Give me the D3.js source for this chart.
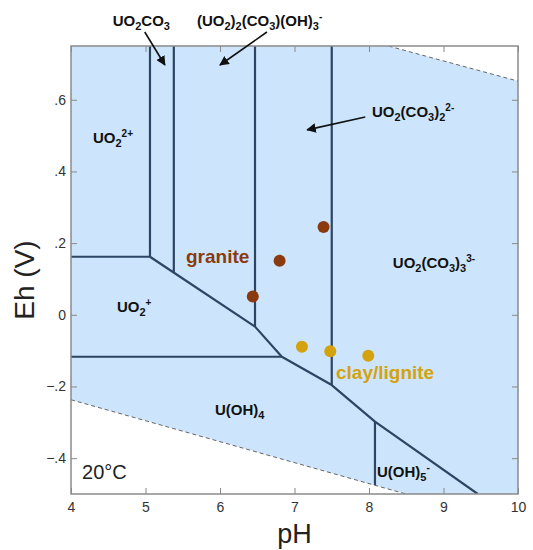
<!DOCTYPE html>
<html>
<head>
<meta charset="utf-8">
<script src="https://cdn.jsdelivr.net/npm/d3@7"></script>
<style>
  body { margin: 0; background: #fff; }
  svg { display: block; }
</style>
</head>
<body>
<div id="chart"></div>
<script>
var width = 533,
	height = 550;

var phTicks = [4, 5, 6, 7, 8, 9, 10];
var ehTicks = [-0.4, -0.2, 0, 0.2, 0.4, 0.6];

// water stability limits (dashed)
var upperWater = [[4, 0.99], [10, 0.652]];
var lowerWater = [[4, -0.237], [10, -0.588]];

// field boundaries [pH, Eh]
var boundaries = [
	[[4, 0.162], [5.06, 0.162]],
	[[5.06, 0.75], [5.06, 0.162]],
	[[5.06, 0.162], [6.47, -0.033], [6.83, -0.117], [7.5, -0.196], [8.08, -0.298], [9.46, -0.5]],
	[[5.38, 0.75], [5.38, 0.118]],
	[[6.47, 0.75], [6.47, -0.033]],
	[[4, -0.117], [6.83, -0.117]],
	[[7.5, 0.75], [7.5, -0.196]],
	[[8.08, -0.298], [8.08, -0.475]]
];

var granitePH = [7.39, 6.80, 6.44];
var graniteEh = [0.245, 0.151, 0.051];
var clayPH = [7.10, 7.48, 7.99];
var clayEh = [-0.089, -0.102, -0.114];

// species labels: parts of [text, kind]; position = left/baseline in data units
var species = [
	{ ph: 4.56, eh: 0.806, parts: [["UO", "n"], ["2", "sub"], ["CO", "n"], ["3", "sub"]] },
	{ ph: 5.69, eh: 0.806, parts: [["(UO", "n"], ["2", "sub"], [")", "n"], ["2", "sub"], ["(CO", "n"], ["3", "sub"], [")(OH)", "n"], ["3", "sub"], ["-", "sup"]] },
	{ ph: 8.04, eh: 0.552, parts: [["UO", "n"], ["2", "sub"], ["(CO", "n"], ["3", "sub"], [")", "n"], ["2", "sub"], ["2-", "sup"]] },
	{ ph: 4.295, eh: 0.479, parts: [["UO", "n"], ["2", "sub"], ["2+", "sup"]] },
	{ ph: 4.617, eh: 0.008, parts: [["UO", "n"], ["2", "sub"], ["+", "sup"]] },
	{ ph: 8.32, eh: 0.131, parts: [["UO", "n"], ["2", "sub"], ["(CO", "n"], ["3", "sub"], [")", "n"], ["3", "sub"], ["3-", "sup"]] },
	{ ph: 5.933, eh: -0.279, parts: [["U(OH)", "n"], ["4", "sub"]] },
	{ ph: 8.107, eh: -0.452, parts: [["U(OH)", "n"], ["5", "sub"], ["-", "sup"]] }
];

var arrows = [
	[[4.99, 0.789], [5.26, 0.697]],
	[[6.63, 0.789], [6.0, 0.697]],
	[[7.95, 0.552], [7.17, 0.516]]
];

var lineColor = "#2b4563";
var fillColor = "#cce5fc";
var graniteColor = "#8b3a10";
var clayColor = "#d4a20c";

var x = d3.scaleLinear().domain([4, 10]).range([71, 518]);
var y = d3.scaleLinear().domain([-0.5, 0.75]).range([494, 46]);

var svg = d3.select("#chart").append("svg")
	.attr("width", width)
	.attr("height", height)
	.style("font-family", "'Liberation Sans', Arial, sans-serif");

var defs = svg.append("defs");
defs.append("clipPath").attr("id", "plotclip")
	.append("rect")
	.attr("x", x(4)).attr("y", y(0.75))
	.attr("width", x(10) - x(4)).attr("height", y(-0.5) - y(0.75));
defs.append("marker")
	.attr("id", "arrowhead")
	.attr("viewBox", "0 0 10 10")
	.attr("refX", 9).attr("refY", 5)
	.attr("markerWidth", 6).attr("markerHeight", 6)
	.attr("orient", "auto")
	.append("path")
	.attr("d", "M0,0 L10,5 L0,10 z")
	.attr("fill", "#111");

var line = d3.line().x(function(d) { return x(d[0]); }).y(function(d) { return y(d[1]); });

var plot = svg.append("g").attr("clip-path", "url(#plotclip)");

// water stability field
var field = upperWater.concat(lowerWater.slice().reverse());
plot.append("path")
	.attr("d", line(field) + "Z")
	.attr("fill", fillColor);
plot.selectAll("path.water")
	.data([upperWater, lowerWater])
	.enter().append("path")
	.attr("class", "water")
	.attr("d", line)
	.attr("fill", "none")
	.attr("stroke", "#666")
	.attr("stroke-width", 1)
	.attr("stroke-dasharray", "4,3");

plot.selectAll("path.bound")
	.data(boundaries)
	.enter().append("path")
	.attr("class", "bound")
	.attr("d", line)
	.attr("fill", "none")
	.attr("stroke", lineColor)
	.attr("stroke-width", 2.2)
	.attr("stroke-linejoin", "round");

// axes
function styleAxis(g) {
	g.selectAll(".domain").remove();
	g.selectAll("line").attr("stroke", "#888").attr("stroke-width", 1);
	g.selectAll("text").attr("fill", "#333").style("font-size", "14px")
		.style("font-family", "'Liberation Sans', Arial, sans-serif");
}
var ehFormat = function(d) {
	if (Math.abs(d) < 1e-9) return "0";
	return (d < 0 ? "\u2212" : "") + "." + Math.round(Math.abs(d) * 10);
};

svg.append("g").attr("transform", "translate(0," + y(-0.5) + ")")
	.call(d3.axisBottom(x).tickValues(phTicks).tickSizeInner(-6).tickSizeOuter(0).tickPadding(8).tickFormat(d3.format("d")))
	.call(styleAxis);
svg.append("g").attr("transform", "translate(0," + y(0.75) + ")")
	.call(d3.axisTop(x).tickValues(phTicks).tickSizeInner(-6).tickSizeOuter(0).tickFormat(""))
	.call(styleAxis);
svg.append("g").attr("transform", "translate(" + x(4) + ",0)")
	.call(d3.axisLeft(y).tickValues(ehTicks).tickSizeInner(-6).tickSizeOuter(0).tickPadding(5).tickFormat(ehFormat))
	.call(styleAxis);
svg.append("g").attr("transform", "translate(" + x(10) + ",0)")
	.call(d3.axisRight(y).tickValues(ehTicks).tickSizeInner(-6).tickSizeOuter(0).tickFormat(""))
	.call(styleAxis);

svg.append("rect")
	.attr("x", x(4)).attr("y", y(0.75))
	.attr("width", x(10) - x(4)).attr("height", y(-0.5) - y(0.75))
	.attr("fill", "none")
	.attr("stroke", "#8a8a8a")
	.attr("stroke-width", 1.5);

// data points
svg.selectAll("circle.granite")
	.data(d3.range(granitePH.length))
	.enter().append("circle")
	.attr("class", "granite")
	.attr("cx", function(i) { return x(granitePH[i]); })
	.attr("cy", function(i) { return y(graniteEh[i]); })
	.attr("r", 6)
	.attr("fill", graniteColor);
svg.selectAll("circle.clay")
	.data(d3.range(clayPH.length))
	.enter().append("circle")
	.attr("class", "clay")
	.attr("cx", function(i) { return x(clayPH[i]); })
	.attr("cy", function(i) { return y(clayEh[i]); })
	.attr("r", 6)
	.attr("fill", clayColor);

// arrows
svg.selectAll("path.arrow")
	.data(arrows)
	.enter().append("path")
	.attr("class", "arrow")
	.attr("d", line)
	.attr("stroke", "#111")
	.attr("stroke-width", 1.6)
	.attr("fill", "none")
	.attr("marker-end", "url(#arrowhead)");

// species labels
species.forEach(function(s) {
	var t = svg.append("text")
		.attr("x", x(s.ph))
		.attr("y", y(s.eh))
		.attr("fill", "#111")
		.style("font-size", "15px")
		.style("font-weight", "bold");
	var shift = 0;
	s.parts.forEach(function(p) {
		var target = p[1] == "sub" ? 4 : (p[1] == "sup" ? -6 : 0);
		var ts = t.append("tspan")
			.attr("dy", target - shift)
			.text(p[0]);
		if (p[1] == "sub") ts.style("font-size", "11px");
		if (p[1] == "sup") ts.style("font-size", "10px");
		shift = target;
	});
});

svg.append("text")
	.attr("x", x(5.544)).attr("y", y(0.145))
	.attr("fill", graniteColor)
	.style("font-size", "19px").style("font-weight", "bold")
	.text("granite");
svg.append("text")
	.attr("x", x(7.557)).attr("y", y(-0.179))
	.attr("fill", clayColor)
	.style("font-size", "19px").style("font-weight", "bold")
	.text("clay/lignite");
svg.append("text")
	.attr("x", x(4.148)).attr("y", y(-0.458))
	.attr("fill", "#222")
	.style("font-size", "20px")
	.text("20\u00B0C");

// axis titles
svg.append("text")
	.attr("x", (x(4) + x(10)) / 2)
	.attr("y", 543)
	.attr("text-anchor", "middle")
	.attr("fill", "#222")
	.style("font-size", "27px")
	.text("pH");
svg.append("text")
	.attr("transform", "translate(34," + 280 + ") rotate(-90)")
	.attr("text-anchor", "middle")
	.attr("fill", "#222")
	.style("font-size", "28px")
	.text("Eh (V)");
</script>
</body>
</html>
